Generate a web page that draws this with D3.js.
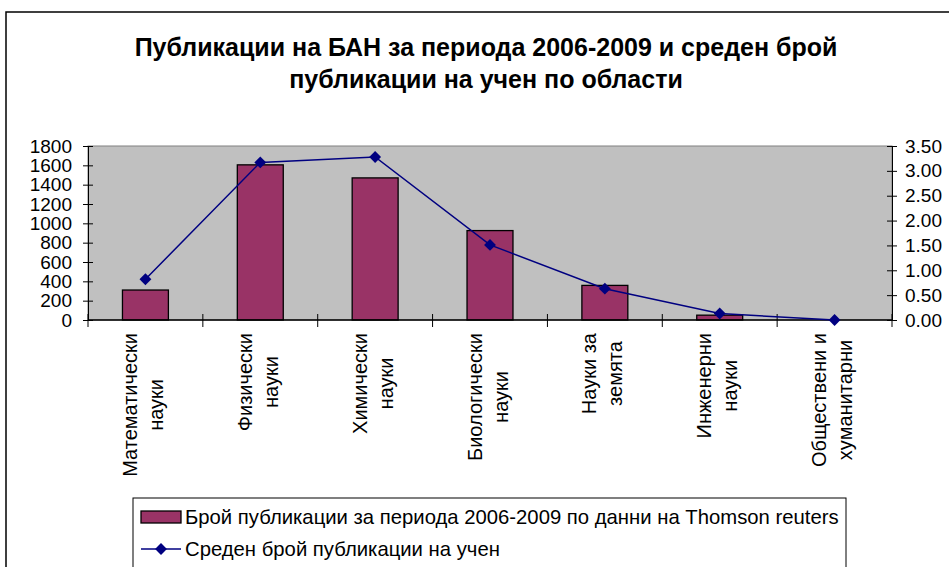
<!DOCTYPE html>
<html><head><meta charset="utf-8">
<script src="https://cdn.jsdelivr.net/npm/d3@7"></script>
<style>body{margin:0;background:#fff}svg{display:block}text{font-family:"Liberation Sans",Arial,sans-serif}</style>
</head><body>
<script>
const categories = [["Математически","науки"],["Физически","науки"],["Химически","науки"],["Биологически","науки"],["Науки за","земята"],["Инженерни","науки"],["Обществени и","хуманитарни"]];
const publications = [310, 1605, 1470, 925, 358, 50, 0];
const avgPerScientist = [0.82, 3.17, 3.28, 1.51, 0.63, 0.13, 0];
const leftTicks = [0,200,400,600,800,1000,1200,1400,1600,1800];
const rightTicks = [0,0.5,1,1.5,2,2.5,3,3.5];
const titleLines = ["Публикации на БАН за периода 2006-2009 и среден брой","публикации на учен по области"];
const legendLabels = ["Брой публикации за периода 2006-2009 по данни на Thomson reuters","Среден брой публикации на учен"];

const W=949,H=567;
const svg=d3.select("body").append("svg").attr("width",W).attr("height",H);
svg.append("rect").attr("x",6).attr("y",12).attr("width",W+10).attr("height",H+10).attr("fill","none").attr("stroke","#000").attr("stroke-width",1.5);

svg.selectAll("text.title").data(titleLines).enter().append("text")
 .attr("x",486).attr("y",(d,i)=>56+i*32).attr("text-anchor","middle")
 .attr("font-size",25).attr("font-weight","bold").text(d=>d);

const L=88,R=892,T=146,B=320;
const x=d3.scaleBand().domain(d3.range(categories.length)).range([L,R]);
const yL=d3.scaleLinear().domain([0,1800]).range([B,T]);
const yR=d3.scaleLinear().domain([0,3.5]).range([B,T]);

svg.append("rect").attr("x",L).attr("y",T).attr("width",R-L).attr("height",B-T).attr("fill","#c0c0c0").attr("stroke","#808080").attr("stroke-width",1);

svg.selectAll("rect.bar").data(publications).enter().append("rect")
 .attr("x",(d,i)=>x(i)+x.bandwidth()*0.3).attr("width",x.bandwidth()*0.4)
 .attr("y",d=>yL(d)).attr("height",d=>B-yL(d))
 .attr("fill","#993366").attr("stroke","#000").attr("stroke-width",1.3);

const axL=svg.append("g").attr("transform",`translate(${L},0)`).call(d3.axisLeft(yL).tickValues(leftTicks).tickFormat(d3.format("d")).tickSize(0).tickPadding(16));
axL.select(".domain").attr("stroke","#000");
axL.selectAll(".tick").append("line").attr("x1",-5).attr("x2",5).attr("stroke","#000");
const axR=svg.append("g").attr("transform",`translate(${R},0)`).call(d3.axisRight(yR).tickValues(rightTicks).tickFormat(d3.format(".2f")).tickSize(0).tickPadding(13));
axR.select(".domain").attr("stroke","#000");
axR.selectAll(".tick").append("line").attr("x1",-5).attr("x2",5).attr("stroke","#000");
[axL,axR].forEach(a=>a.selectAll("text").attr("font-size",19).attr("fill","#000").attr("font-family","Liberation Sans, Arial, sans-serif"));

const bot=svg.append("g");
bot.append("line").attr("x1",L).attr("x2",R).attr("y1",B).attr("y2",B).attr("stroke","#000").attr("stroke-width",1.5);
bot.selectAll("line.t").data(d3.range(categories.length+1)).enter().append("line")
 .attr("x1",i=>L+i*x.bandwidth()).attr("x2",i=>L+i*x.bandwidth()).attr("y1",B-6).attr("y2",B+7).attr("stroke","#000");

categories.forEach((lines,i)=>{
  const cx=x(i)+x.bandwidth()/2;
  const g=svg.append("g");
  const t=g.append("text").attr("font-size",20).attr("text-anchor","middle");
  lines.forEach((ln,j)=>t.append("tspan").attr("x",0).attr("y",(j-(lines.length-1)/2)*26+4.6).text(ln));
  const maxLen=d3.max(t.selectAll("tspan").nodes(),n=>n.getComputedTextLength());
  g.attr("transform",`translate(${cx},${333+maxLen/2}) rotate(-90)`);
});

const line=d3.line().x((d,i)=>x(i)+x.bandwidth()/2).y(d=>yR(d));
svg.append("path").datum(avgPerScientist).attr("d",line).attr("fill","none").attr("stroke","#000080").attr("stroke-width",1.5);
const sym=d3.symbol().type(d3.symbolDiamond2).size(90);
svg.selectAll("path.pt").data(avgPerScientist).enter().append("path")
 .attr("d",sym).attr("transform",(d,i)=>`translate(${x(i)+x.bandwidth()/2},${yR(d)})`).attr("fill","#000080");

const lg=svg.append("g");
lg.append("rect").attr("x",133).attr("y",498).attr("width",713).attr("height",100).attr("fill","#fff").attr("stroke","#000").attr("stroke-width",1);
lg.append("rect").attr("x",141).attr("y",511).attr("width",40).attr("height",12).attr("fill","#993366").attr("stroke","#000").attr("stroke-width",1.3);
lg.append("line").attr("x1",141).attr("x2",181).attr("y1",549).attr("y2",549).attr("stroke","#000080").attr("stroke-width",1.5);
lg.append("path").attr("d",sym).attr("transform","translate(161,549)").attr("fill","#000080");
lg.selectAll("text").data(legendLabels).enter().append("text").attr("x",185).attr("y",(d,i)=>524+i*32).attr("font-size",20.3).text(d=>d);
</script>
</body></html>
